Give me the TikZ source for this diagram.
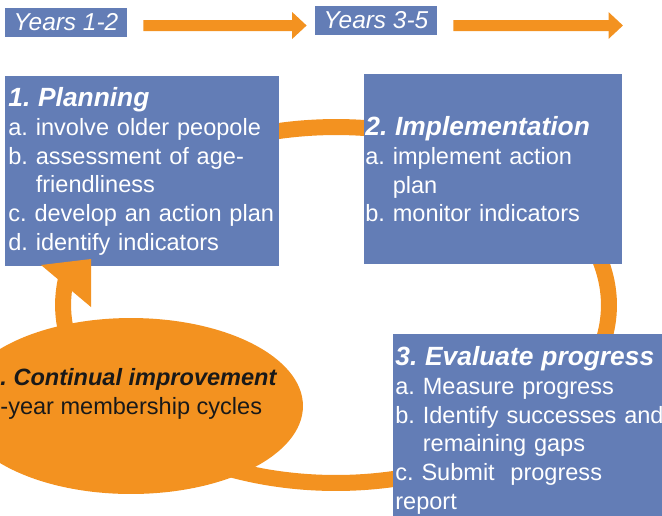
\documentclass[tikz,border=0pt]{standalone}
\usepackage{fontspec}
\setmainfont{Liberation Sans}
\usepackage{xcolor}
\usetikzlibrary{arrows.meta,shapes.geometric,positioning}

\definecolor{boxblue}{RGB}{99,125,182}
\definecolor{cycleorange}{RGB}{243,146,32}

\newcommand{\cyclebody}{\fontsize{13.4}{16.3}\selectfont\frenchspacing}
\newcommand{\stagehead}[1]{{\fontsize{15}{16.3}\selectfont\bfseries\itshape #1}}

\begin{document}
\begin{tikzpicture}[x=0.02cm, y=-0.02cm,
    stagebox/.style={fill=boxblue, text=white, anchor=north west, align=left, inner ysep=0pt, font=\cyclebody},
    yearbox/.style={fill=boxblue, text=white, inner sep=0pt, minimum width=2.44cm, minimum height=0.58cm, font=\fontsize{13.9}{16.3}\selectfont\itshape},
    yeararrow/.style={draw=cycleorange, line width=0.22cm, -{Triangle[length=0.29cm, width=0.52cm]}},
    cyclering/.style={draw=cycleorange, line width=0.32cm}]

    \useasboundingbox (0,0) rectangle (662,515);
    \clip (0,0) rectangle (662,515);

    % time line
    \node[yearbox] (yr1) at (66,22.5) {Years 1-2};
    \node[yearbox] (yr2) at (376,20.5) {Years 3-5};
    \coordinate (nextcycle) at (623,25.5);
    \draw[yeararrow] ([xshift=0.32cm,yshift=-0.06cm]yr1.east) -- ([xshift=-0.16cm,yshift=-0.1cm]yr2.west);
    \draw[yeararrow] ([xshift=0.32cm,yshift=-0.1cm]yr2.east) -- (nextcycle);

    % the cycle, behind everything
    \coordinate (ringc) at (336,305);
    \draw[cyclering] (ringc) ++(140:5.46cm and 3.56cm) arc[start angle=140, end angle=-189.7, x radius=5.46cm, y radius=3.56cm];

    \node[ellipse, fill=cycleorange, minimum width=6.88cm, minimum height=3.52cm, inner sep=0pt] (improve) at (131,406) {};
    \node[anchor=north west, inner sep=0pt, align=left, text=black!90, font=\cyclebody] (improvetext) at (-13,368)
        {\textbf{\textit{4. Continual improvement}}\\5-year membership cycles};

    % the three stages
    \node[stagebox, text width=5.36cm, inner xsep=0.06cm, minimum height=3.8cm] (plan) at (5,76)
        {\stagehead{1. Planning}\\
         a. involve older peopole\\
         b. assessment of age-\\
         \phantom{b. }friendliness\\
         c. develop an action plan\\
         d. identify indicators};
    \node[stagebox, text width=5.12cm, inner xsep=0.02cm, minimum height=3.8cm] (implement) at (364,74)
        {\stagehead{2. Implementation}\\
         a. implement action\\
         \phantom{a. }plan\\
         b. monitor indicators};
    \node[stagebox, text width=5.7cm, inner xsep=0.04cm, minimum height=3.84cm] (evaluate) at (393,334)
        {\stagehead{3. Evaluate progress}\\
         a. Measure progress\\
         b. Identify successes and\\
         \phantom{b. }remaining gaps\\
         c. Submit\ \ progress\\
         report};

    % head of the cycle arrow
    \fill[cycleorange] (41,265) -- (91,259) -- (91,307) -- cycle;
\end{tikzpicture}
\end{document}
